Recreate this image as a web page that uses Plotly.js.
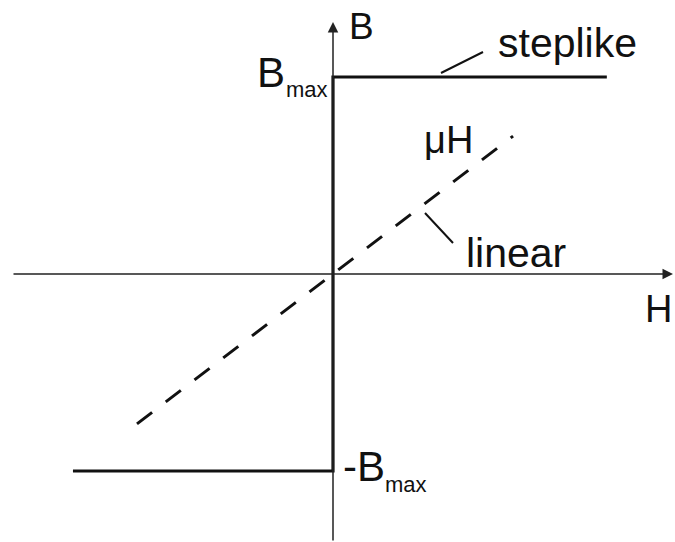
<!DOCTYPE html>
<html>
<head>
<meta charset="utf-8">
<script src="https://cdn.plot.ly/plotly-3.0.1.min.js"></script>
<style>
  html, body { margin: 0; padding: 0; background: #fff; }
  #chart { width: 675px; height: 542px; }
</style>
</head>
<body>
<div id="chart"></div>
<script>
// B(H) curves: ideal step-like magnetisation and linear B = μH
const stepH = [-1.32, 0, 0, 1.39];
const stepB = [-1, -1, 1, 1];
const linearH = [-0.995, 0.914];
const linearB = [-0.761, 0.700];

// Figure geometry: origin at pixel (333, 274), 197 px per unit on both axes
const W = 675, H = 542, OX = 333, OY = 274, U = 197;
const X = px => (px - OX) / U;
const Y = py => (OY - py) / U;

const FONT = 'Liberation Sans, Arial, Helvetica, sans-serif';
const INK = '#111';

const traces = [
  {
    x: linearH, y: linearB, mode: 'lines', hoverinfo: 'skip',
    line: { color: INK, width: 3, dash: '19px,17.2px' }
  },
  {
    x: stepH, y: stepB, mode: 'lines', hoverinfo: 'skip',
    line: { color: INK, width: 3.2, shape: 'linear' }
  }
];

function label(text, px, py, size, xanchor) {
  return {
    text: text, x: X(px), y: Y(py), xref: 'x', yref: 'y',
    showarrow: false, xanchor: xanchor || 'center', yanchor: 'middle',
    font: { family: FONT, size: size, color: INK }
  };
}

function axisArrow(x, y, ax, ay) {
  return {
    text: '', x: x, y: y, ax: ax, ay: ay,
    xref: 'x', yref: 'y', axref: 'x', ayref: 'y',
    showarrow: true, arrowhead: 2, arrowsize: 1.4, arrowwidth: 1.5,
    arrowcolor: '#222', standoff: 0, startstandoff: 0
  };
}

const annotations = [
  // axes with arrowheads
  axisArrow(X(673), 0, X(12), 0),
  axisArrow(0, Y(22), 0, Y(H)),
  // axis names
  label('B', 361, 26, 37),
  label('H', 658, 309, 38),
  // level labels
  label('B', 271, 72, 42),
  label('max', 306.5, 89.4, 22),
  label('-B', 341, 466, 42, 'left'),
  label('max', 406, 484.4, 22),
  // curve labels
  label('steplike', 567.5, 42.8, 41),
  label('linear', 516, 252.8, 41),
  label('\u03bcH', 448, 140, 38)
];

// leader lines from curve labels to their curves
const shapes = [
  { type: 'line', xref: 'x', yref: 'y', x0: X(441), y0: Y(73), x1: X(483), y1: Y(52),
    line: { color: INK, width: 2 } },
  { type: 'line', xref: 'x', yref: 'y', x0: X(425), y0: Y(213), x1: X(453), y1: Y(243),
    line: { color: INK, width: 2 } }
];

const layout = {
  width: W, height: H,
  margin: { l: 0, r: 0, t: 0, b: 0, pad: 0 },
  paper_bgcolor: '#fff', plot_bgcolor: '#fff',
  showlegend: false,
  xaxis: { range: [X(0), X(W)], visible: false, showgrid: false, zeroline: false, fixedrange: true },
  yaxis: { range: [Y(H), Y(0)], visible: false, showgrid: false, zeroline: false, fixedrange: true },
  annotations: annotations,
  shapes: shapes
};

Plotly.newPlot('chart', traces, layout, { staticPlot: true, displayModeBar: false });
</script>
</body>
</html>
